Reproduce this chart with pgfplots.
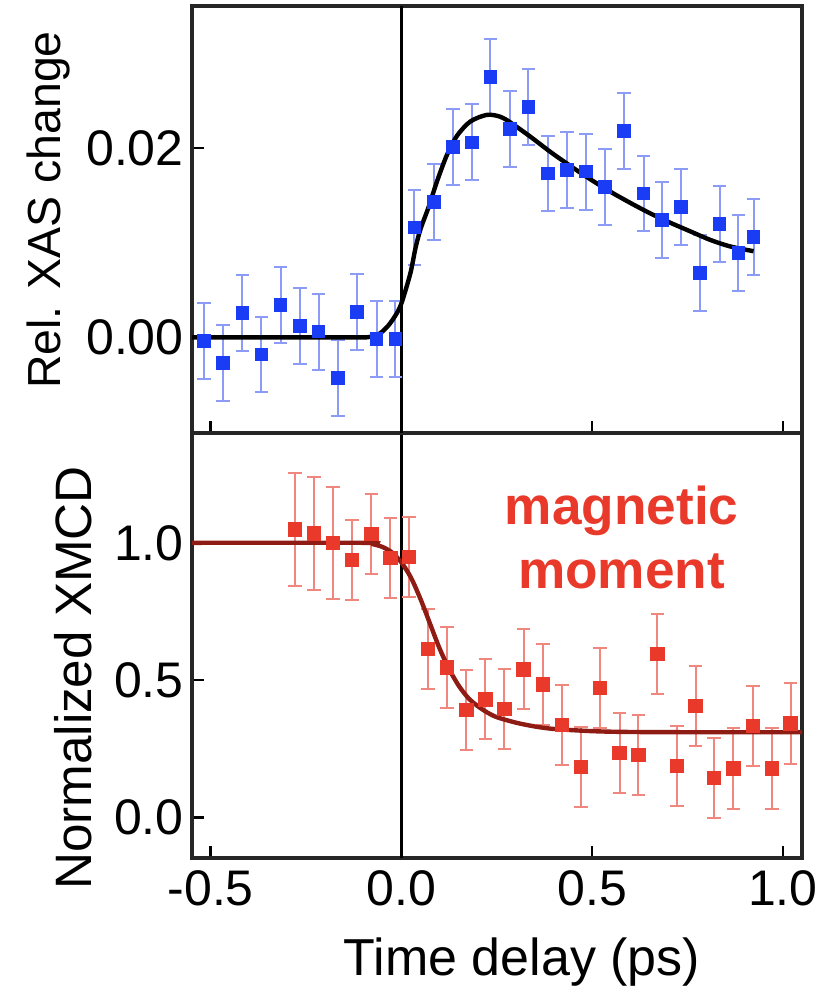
\documentclass[border=0pt]{standalone}
\usepackage{fontspec}
\setmainfont{Liberation Sans}
\usepackage{pgfplots}
\pgfplotsset{compat=1.18}
\usepackage{pgfplotstable}
\definecolor{myblue}{HTML}{1A3CF5}
\definecolor{myblueerr}{HTML}{8C9BF5}
\definecolor{myred}{HTML}{E8392A}
\definecolor{myrederr}{HTML}{F0877E}
\definecolor{mydark}{HTML}{8E1B14}

\pgfplotstableread{
x y e
-0.518 -0.0004 0.004
-0.467 -0.0027 0.004
-0.417 0.0026 0.004
-0.367 -0.0018 0.004
-0.317 0.0034 0.004
-0.266 0.0012 0.004
-0.217 0.0006 0.004
-0.167 -0.0043 0.004
-0.116 0.0027 0.004
-0.065 -0.0002 0.004
-0.016 -0.0002 0.004
0.034 0.0116 0.004
0.085 0.0143 0.004
0.135 0.0201 0.004
0.185 0.0206 0.004
0.233 0.0275 0.004
0.284 0.0220 0.004
0.333 0.0243 0.004
0.384 0.0173 0.004
0.434 0.0177 0.004
0.484 0.0175 0.004
0.534 0.0159 0.004
0.584 0.0218 0.004
0.635 0.0152 0.004
0.683 0.0124 0.004
0.733 0.0138 0.004
0.783 0.0068 0.004
0.834 0.0120 0.004
0.883 0.0089 0.004
0.923 0.0106 0.004
}\topdata

\pgfplotstableread{
x y e
-0.279 1.049 0.205
-0.230 1.034 0.205
-0.180 1.000 0.205
-0.129 0.937 0.146
-0.079 1.032 0.146
-0.029 0.945 0.146
0.020 0.949 0.146
0.070 0.614 0.146
0.120 0.546 0.146
0.170 0.391 0.146
0.220 0.430 0.146
0.270 0.394 0.146
0.320 0.539 0.146
0.371 0.484 0.146
0.421 0.336 0.146
0.471 0.184 0.146
0.521 0.472 0.146
0.572 0.235 0.146
0.621 0.227 0.146
0.671 0.595 0.146
0.722 0.188 0.146
0.771 0.405 0.146
0.820 0.144 0.146
0.870 0.178 0.146
0.921 0.332 0.146
0.971 0.178 0.146
1.020 0.342 0.146
}\botdata

\pgfplotsset{
  panel/.style={
    scale only axis,
    width=152.5pt,
    xmin=-0.549, xmax=1.05,
    axis line style={black!85, line width=0.8pt},
    tick style={black, line width=0.6pt},
    tick align=inside,
    major tick length=3pt,
    tick pos=left,
    xtick={-0.5,0,0.5,1},
    ticklabel style={font=\fontsize{12.5}{14}\selectfont},
    yticklabel style={inner sep=0pt, anchor=east, xshift=-1.9pt},
    xticklabel style={inner sep=0pt, anchor=north, yshift=-3pt},
    clip=true,
  }
}

\begin{document}
\begin{tikzpicture}
\useasboundingbox (-48pt,-33.5pt) rectangle (161pt,214.5pt);

% bottom panel
\begin{axis}[panel, at={(0,0)}, anchor=south west, height=106.25pt,
  ymin=-0.148, ymax=1.40, ytick={0,0.5,1}, yticklabels={0.0,0.5,1.0},
  xticklabels={-0.5,0.0,0.5,1.0}]
\addplot[black, line width=0.6pt, forget plot] coordinates {(0,-0.148) (0,1.40)};
\addplot[only marks, mark=square*, mark size=1.6pt, color=myred,
  error bars/.cd, y dir=both, y explicit,
  error bar style={myrederr, line width=0.5pt},
  error mark options={rotate=90, myrederr, mark size=1.7pt, line width=0.5pt}]
  table[x=x, y=y, y error=e] {\botdata};
\addplot[mydark, line width=1.1pt, smooth] coordinates {
(-0.549,1.0) (-0.1,1.0) (-0.075,0.995) (-0.05,0.985) (-0.025,0.965) (0,0.928)
(0.025,0.873) (0.05,0.795) (0.075,0.705) (0.1,0.615) (0.125,0.540) (0.15,0.480)
(0.175,0.435) (0.2,0.405) (0.225,0.382) (0.25,0.365) (0.3,0.345) (0.35,0.331)
(0.4,0.322) (0.5,0.314) (0.6,0.311) (0.8,0.310) (1.05,0.310)};
\end{axis}

% top panel
\begin{axis}[panel, at={(0,106.25pt)}, anchor=south west, height=106.75pt,
  ymin=-0.0101, ymax=0.0350, ytick={0,0.02}, yticklabels={0.00,0.02},
  xticklabels={}]
\addplot[black, line width=0.6pt, forget plot] coordinates {(0,-0.0101) (0,0.035)};
\addplot[only marks, mark=square*, mark size=1.5pt, color=myblue,
  error bars/.cd, y dir=both, y explicit,
  error bar style={myblueerr, line width=0.5pt},
  error mark options={rotate=90, myblueerr, mark size=1.7pt, line width=0.5pt}]
  table[x=x, y=y, y error=e] {\topdata};
\addplot[black, line width=1.1pt, smooth] coordinates {
(-0.549,0) (-0.15,0) (-0.0725,0.0001) (-0.0376,0.0011) (-0.0114,0.0026) (0.0017,0.0038)
(0.0236,0.0068) (0.0367,0.0094) (0.0497,0.0114) (0.0716,0.0138) (0.0934,0.0165)
(0.1196,0.0193) (0.1458,0.0213) (0.1807,0.0228) (0.2243,0.0235) (0.2592,0.0233)
(0.2854,0.0227) (0.3378,0.0212) (0.390,0.0196) (0.443,0.0181) (0.495,0.0167)
(0.547,0.0154) (0.600,0.0142) (0.652,0.0131) (0.705,0.0121) (0.757,0.0112)
(0.809,0.0103) (0.862,0.0096) (0.923,0.0091)};
\end{axis}

\node[rotate=90, anchor=base, font=\fontsize{11.6}{13}\selectfont] at (-33pt,162pt) {Rel. XAS change};
\node[rotate=90, anchor=base, font=\fontsize{12.8}{14}\selectfont] at (-25.1pt,45pt) {Normalized XMCD};
\node[anchor=base, font=\fontsize{13}{15}\selectfont] at (82.5pt,-29.25pt) {Time delay (ps)};
\node[anchor=base, text=myred, font=\bfseries\fontsize{13.3}{16}\selectfont] at (107.4pt,83.25pt) {magnetic};
\node[anchor=base, text=myred, font=\bfseries\fontsize{13.3}{16}\selectfont] at (107.4pt,67.4pt) {moment};
\end{tikzpicture}
\end{document}
